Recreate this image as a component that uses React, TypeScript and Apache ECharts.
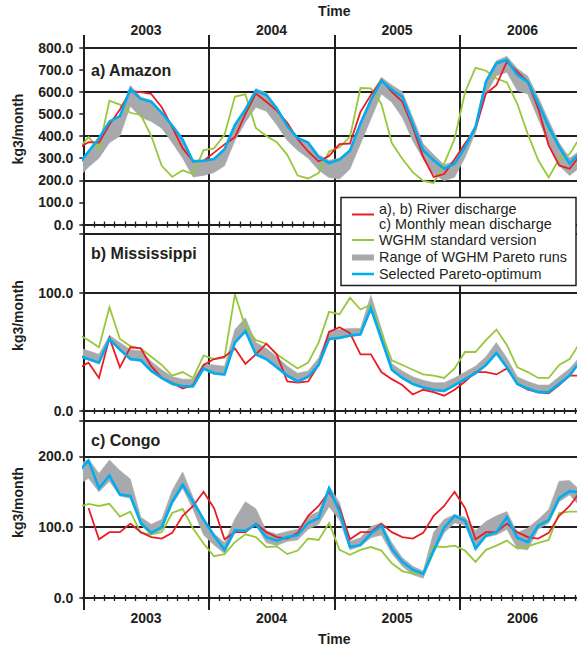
import { useEffect, useRef } from 'react';
import * as echarts from 'echarts';

const FONT = '"Liberation Sans", Arial, Helvetica, sans-serif';
const INK = '#231f20';
const RED = '#ec1c24';
const GREEN = '#97c83c';
const BLUE = '#00aeef';
const GRAY = '#a7a9ac';

// Time axis in months since Jan 2003. Samples are monthly values plotted mid-month, Dec 2002 ... Dec 2006.
const firstSampleMonth = -0.5;
const axisMonths = 48;
const yearLabels = ['2003', '2004', '2005', '2006'];
const xName = 'Time';
const yName = 'kg3/month';
const panelLabels = ['a) Amazon', 'b) Mississippi', 'c) Congo'];
const yMax = [800, 150, 250];
const yGridStep = [200, 100, 100];
const yLabelStep = 100;
const legendItems = [
  'a), b) River discharge',
  'c) Monthly mean discharge',
  'WGHM standard version',
  'Range of WGHM Pareto runs',
  'Selected Pareto-optimum',
];

// ---- a) Amazon (kg3/month) ----
const amazonRiver = [345, 372, 370, 452, 520, 603, 598, 590, 530, 440, 345, 285, 288, 325, 362, 395, 500, 592, 555, 515, 460, 385, 330, 285, 310, 363, 366, 509, 585, 653, 600, 555, 441, 305, 215, 228, 295, 366, 434, 592, 630, 736, 691, 645, 524, 358, 267, 252, 313];
const amazonWghm = [335, 396, 340, 560, 542, 505, 495, 400, 265, 215, 245, 228, 336, 344, 405, 578, 588, 436, 400, 372, 315, 221, 208, 232, 330, 350, 396, 617, 615, 545, 368, 297, 237, 197, 188, 274, 387, 598, 708, 695, 660, 642, 545, 409, 290, 213, 296, 318, 394];
const amazonOptimum = [268, 330, 390, 465, 490, 612, 568, 555, 505, 447, 383, 285, 288, 296, 340, 450, 520, 605, 585, 525, 445, 390, 370, 305, 278, 293, 335, 456, 562, 650, 610, 577, 456, 335, 290, 252, 275, 350, 441, 645, 728, 744, 676, 645, 547, 441, 351, 275, 325];
const amazonParetoMin = [210, 260, 300, 370, 400, 535, 485, 465, 435, 370, 300, 215, 222, 235, 265, 380, 462, 530, 512, 450, 380, 335, 300, 245, 212, 206, 251, 364, 477, 590, 552, 484, 379, 296, 228, 198, 213, 303, 416, 590, 672, 688, 605, 590, 477, 364, 266, 221, 258];
const amazonParetoMax = [275, 335, 395, 470, 495, 628, 575, 560, 510, 450, 390, 292, 292, 300, 345, 455, 525, 615, 595, 530, 450, 395, 375, 315, 290, 300, 340, 460, 570, 665, 630, 600, 485, 365, 315, 270, 285, 360, 450, 655, 740, 760, 705, 670, 575, 470, 370, 300, 335];

// ---- b) Mississippi ----
const missRiver = [36, 41, 28, 62, 37, 54, 53, 38, 28, 24, 19, 22, 39, 44, 46, 53, 40, 48, 57, 48, 25, 24, 25, 39, 67, 71, 66, 48, 48, 33, 27, 22, 14, 18, 16, 13, 18, 25, 33, 33, 31, 36, 23, 18, 16, 15, 22, 30, 30];
const missWghm = [65, 60, 54, 88, 61, 55, 53, 46, 39, 30, 33, 28, 47, 44, 45, 99, 71, 60, 57, 48, 42, 36, 41, 58, 84, 82, 96, 86, 90, 66, 43, 39, 35, 31, 30, 28, 36, 50, 50, 60, 69, 56, 37, 33, 28, 28, 39, 44, 58];
const missOptimum = [47, 44, 41, 61, 52, 44, 43, 34, 28, 23, 21, 21, 36, 32, 31, 58, 68, 48, 44, 37, 30, 25, 29, 39, 61, 62, 64, 65, 87, 61, 35, 28, 23, 20, 18, 17, 22, 27, 32, 39, 49, 37, 23, 19, 16, 16, 23, 30, 42];
const missParetoMin = [46, 43, 40, 60, 51, 43, 42, 33, 27, 22, 20, 20, 35, 31, 30, 57, 66, 47, 43, 36, 29, 24, 28, 38, 60, 61, 63, 64, 85, 60, 34, 27, 22, 19, 17, 16, 21, 26, 31, 38, 48, 36, 22, 18, 15, 15, 22, 29, 41];
const missParetoMax = [54, 51, 48, 64, 58, 52, 51, 42, 35, 29, 27, 27, 40, 39, 38, 69, 79, 58, 53, 46, 38, 32, 34, 45, 68, 69, 70, 70, 98, 70, 40, 34, 29, 26, 24, 24, 28, 33, 38, 46, 58, 45, 29, 25, 22, 22, 29, 36, 46];

// ---- c) Congo ----
const congoMonthlyMean = [null, 127, 83, 93, 93, 105, 93, 86, 84, 92, 116, 130, 150, 127, 83, 93, 93, 105, 93, 86, 84, 92, 116, 130, 150, 127, 83, 93, 93, 105, 93, 86, 84, 92, 116, 130, 150, 127, 83, 93, 93, 105, 93, 86, 84, 92, 116, 130, 150];
const congoWghm = [128, 133, 130, 133, 115, 122, 92, 90, 93, 120, 126, 98, 77, 59, 62, 79, 90, 86, 72, 73, 62, 67, 84, 82, 106, 68, 61, 68, 72, 67, 49, 38, 34, 35, 73, 72, 74, 67, 51, 68, 74, 81, 70, 73, 78, 82, 120, 122, 122];
const congoOptimum = [178, 194, 155, 173, 146, 144, 106, 92, 100, 136, 160, 136, 111, 88, 68, 96, 95, 104, 86, 81, 86, 89, 106, 113, 155, 122, 72, 75, 91, 102, 69, 51, 40, 34, 67, 99, 116, 109, 70, 88, 93, 114, 85, 79, 102, 110, 141, 151, 149];
const congoParetoMin = [160, 169, 150, 165, 144, 141, 103, 89, 96, 132, 155, 125, 89, 75, 63, 92, 93, 103, 78, 74, 80, 82, 97, 104, 129, 110, 68, 73, 85, 89, 63, 45, 33, 28, 63, 92, 106, 103, 67, 86, 89, 97, 70, 68, 97, 106, 136, 146, 129];
const congoParetoMax = [188, 196, 176, 195, 180, 168, 114, 104, 111, 152, 178, 142, 112, 91, 78, 112, 136, 126, 95, 90, 94, 97, 115, 122, 158, 135, 80, 85, 101, 106, 78, 57, 45, 38, 93, 111, 118, 114, 95, 108, 116, 122, 92, 99, 111, 125, 165, 166, 152];

const panels = [
  { river: amazonRiver, wghm: amazonWghm, opt: amazonOptimum, lo: amazonParetoMin, hi: amazonParetoMax },
  { river: missRiver, wghm: missWghm, opt: missOptimum, lo: missParetoMin, hi: missParetoMax },
  { river: congoMonthlyMean, wghm: congoWghm, opt: congoOptimum, lo: congoParetoMin, hi: congoParetoMax },
];

// layout (px)
const PLOT_LEFT = 83.3;
const PLOT_WIDTH = 502;
const PANEL_TOPS = [47.5, 234, 421];
const PANEL_H = 177;
const FRAME_TOP = 35;
const FRAME_H = 575;

const bold14 = { fontFamily: FONT, fontWeight: 'bold' as const, fontSize: 14, color: INK };

function buildOption() {
  const grid: any[] = [
    { left: PLOT_LEFT, width: PLOT_WIDTH, top: FRAME_TOP, height: FRAME_H, outerBoundsMode: 'none', containLabel: false },
  ];
  PANEL_TOPS.forEach((t) =>
    grid.push({ left: PLOT_LEFT, width: PLOT_WIDTH, top: t, height: PANEL_H, outerBoundsMode: 'none', containLabel: false })
  );

  const yearFmt = (v: number) => {
    const r = v % 12;
    if (r !== 6) return '';
    return yearLabels[(v - 6) / 12] ?? '';
  };

  const xAxis: any[] = [
    {
      gridIndex: 0, type: 'value', position: 'bottom', min: 0, max: axisMonths, interval: 12,
      axisLine: { show: false }, axisTick: { show: false }, axisLabel: { show: false },
      splitLine: { show: true, lineStyle: { color: INK, width: 2 } },
    },
    {
      gridIndex: 0, type: 'value', position: 'top', min: 0, max: axisMonths, interval: 6,
      axisLine: { show: false }, axisTick: { show: false }, splitLine: { show: false },
      axisLabel: { ...bold14, margin: -2, formatter: yearFmt, showMinLabel: true, showMaxLabel: true },
      name: xName, nameLocation: 'middle', nameGap: 14, nameTextStyle: bold14,
    },
    {
      gridIndex: 0, type: 'value', position: 'bottom', min: 0, max: axisMonths, interval: 6,
      axisLine: { show: false }, axisTick: { show: false }, splitLine: { show: false },
      axisLabel: { ...bold14, margin: 1, formatter: yearFmt },
      name: xName, nameLocation: 'middle', nameGap: 22, nameTextStyle: bold14,
    },
  ];
  const yAxis: any[] = [{ gridIndex: 0, type: 'value', min: 0, max: 1, show: false }];

  panels.forEach((_, p) => {
    const gi = p + 1;
    ['bottom', 'top'].forEach((pos) =>
      xAxis.push({
        gridIndex: gi, type: 'value', position: pos, min: 0, max: axisMonths, interval: 1,
        axisLine: { show: true, lineStyle: { color: INK, width: 2 } },
        axisTick: { show: true, inside: false, length: 3, lineStyle: { color: INK, width: 1.3 } },
        axisLabel: { show: false }, splitLine: { show: false },
      })
    );
    yAxis.push({
      gridIndex: gi, type: 'value', position: 'left', min: 0, max: yMax[p], interval: yLabelStep,
      axisLine: { show: true, lineStyle: { color: INK, width: 2 } },
      axisTick: { show: true, inside: false, length: 4, lineStyle: { color: INK, width: 1.5 } },
      axisLabel: {
        ...bold14, margin: 10, showMinLabel: true, showMaxLabel: true,
        formatter: (v: number) => (v % yLabelStep === 0 ? v.toFixed(1) : ''),
      },
      splitLine: { show: false },
      name: yName, nameLocation: 'middle', nameRotate: 90, nameGap: 58,
      nameTextStyle: { ...bold14, padding: [0, 0, 0, 14] },
    });
    yAxis.push({
      gridIndex: gi, type: 'value', position: 'left', min: 0, max: yMax[p], interval: yGridStep[p],
      axisLine: { show: false }, axisTick: { show: false }, axisLabel: { show: false },
      splitLine: { show: true, lineStyle: { color: INK, width: 1.8 } },
    });
  });

  const series: any[] = [];
  panels.forEach((d, p) => {
    const xi = 3 + 2 * p;
    const yi = 1 + 2 * p;
    const rows = d.lo.map((v, i) => [firstSampleMonth + i, v, d.hi[i]]);
    series.push({
      type: 'custom', xAxisIndex: xi, yAxisIndex: yi, clip: true, silent: true, z: 1,
      encode: { x: 0, y: [1, 2] }, data: rows,
      renderItem: (params: any, api: any) => {
        if (params.dataIndex !== 0) return null;
        const top = rows.map((r) => api.coord([r[0], r[2]]));
        const bottom = rows.map((r) => api.coord([r[0], r[1]])).reverse();
        return {
          type: 'polygon',
          shape: { points: top.concat(bottom) },
          style: { fill: GRAY, stroke: GRAY, lineWidth: 0.6 },
        };
      },
    });
    const line = (arr: (number | null)[], color: string, width: number, z: number) => ({
      type: 'line', xAxisIndex: xi, yAxisIndex: yi, z, silent: true,
      data: arr.map((v, i) => [firstSampleMonth + i, v]),
      symbol: 'none', showSymbol: false, connectNulls: false,
      lineStyle: { color, width, join: 'miter' }, itemStyle: { color },
    });
    series.push(line(d.wghm, GREEN, 1.8, 3));
    series.push(line(d.river, RED, 1.8, 4));
    series.push(line(d.opt, BLUE, 2.6, 5));
  });

  const title = panelLabels.map((t, p) => ({
    text: t, left: 91, top: [62, 245, 432][p], padding: 0,
    textStyle: { fontFamily: FONT, fontWeight: 'bold', fontSize: 16, color: INK },
  }));

  const lx1 = 352, lx2 = 374, tx = 379;
  const legendFont = { fontFamily: FONT, fontSize: 14.4, fill: INK, verticalAlign: 'middle', align: 'left' };
  const graphic = [
    {
      type: 'group', z: 100, children: [
        { type: 'rect', z: 100, shape: { x: 341, y: 197.5, width: 235, height: 88 }, style: { fill: '#fff', stroke: INK, lineWidth: 1.5 } },
        { type: 'line', z: 101, shape: { x1: lx1, y1: 214.5, x2: lx2, y2: 214.5 }, style: { stroke: RED, lineWidth: 2 } },
        { type: 'text', z: 101, x: tx, y: 209, style: { ...legendFont, text: legendItems[0] } },
        { type: 'text', z: 101, x: tx, y: 223.5, style: { ...legendFont, text: legendItems[1] } },
        { type: 'line', z: 101, shape: { x1: lx1, y1: 240, x2: lx2, y2: 240 }, style: { stroke: GREEN, lineWidth: 2 } },
        { type: 'text', z: 101, x: tx, y: 240, style: { ...legendFont, text: legendItems[2] } },
        { type: 'line', z: 101, shape: { x1: lx1, y1: 257.5, x2: lx2, y2: 257.5 }, style: { stroke: GRAY, lineWidth: 6 } },
        { type: 'text', z: 101, x: tx, y: 257, style: { ...legendFont, text: legendItems[3] } },
        { type: 'line', z: 101, shape: { x1: lx1, y1: 274, x2: lx2, y2: 274 }, style: { stroke: BLUE, lineWidth: 2.5 } },
        { type: 'text', z: 101, x: tx, y: 273.5, style: { ...legendFont, text: legendItems[4] } },
      ],
    },
  ];

  return {
    animation: false,
    backgroundColor: '#fff',
    textStyle: { fontFamily: FONT },
    title, grid, xAxis, yAxis, series, graphic,
  };
}

export default function App() {
  const ref = useRef<HTMLDivElement>(null);
  useEffect(() => {
    if (!ref.current) return;
    const chart = echarts.init(ref.current, null, { renderer: 'svg', width: 577, height: 647 });
    chart.setOption(buildOption() as any);
    return () => chart.dispose();
  }, []);
  return <div ref={ref} style={{ position: 'absolute', left: 0, top: 0, width: 577, height: 647 }} />;
}
